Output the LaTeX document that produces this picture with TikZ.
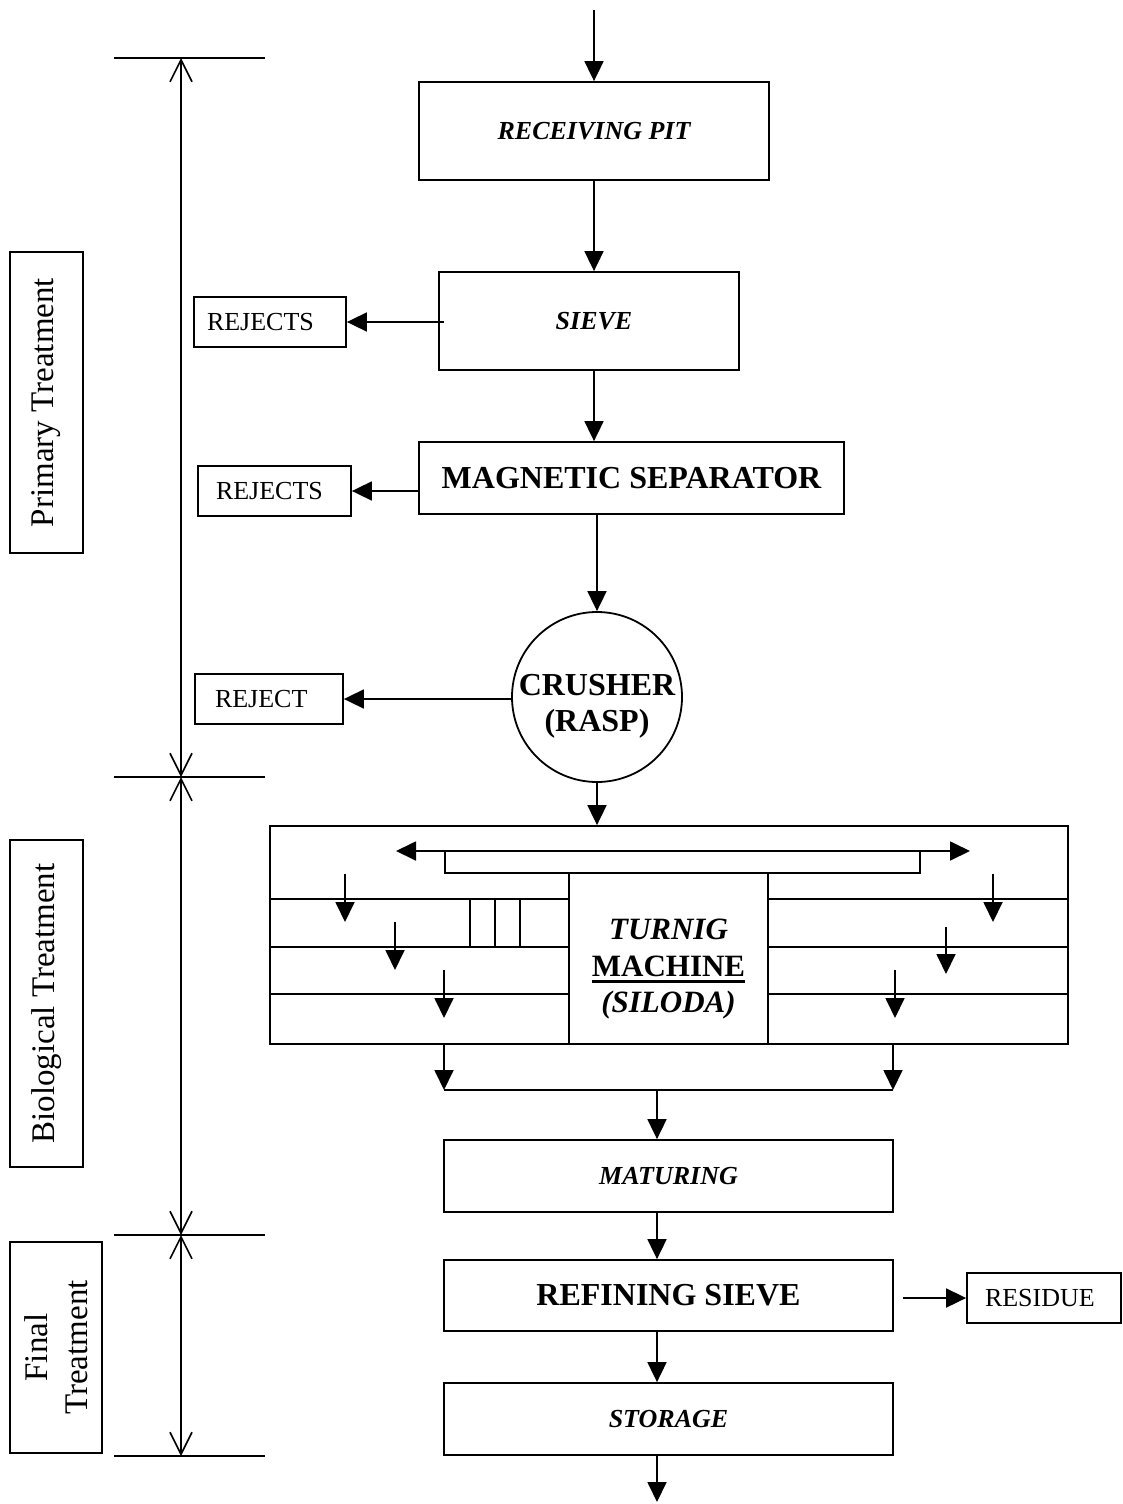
\documentclass[tikz,border=0pt]{standalone}
\usepackage{fontspec}
\setmainfont{Liberation Serif}
\usetikzlibrary{arrows.meta}
\begin{document}
\begin{tikzpicture}[x=1pt,y=-1pt,
  thickline/.style={line width=1.8pt},
  flow/.style={thickline, -{Triangle[length=20pt,width=19pt]}},
  twoway/.style={thickline, {Triangle[length=20pt,width=19pt]}-{Triangle[length=20pt,width=19pt]}},
  dimarrow/.style={line width=1.6pt, {Straight Barb[length=22pt,width=22pt]}-{Straight Barb[length=22pt,width=22pt]}},
  procbox/.style={draw, line width=1.8pt, inner sep=0pt},
  sidebox/.style={draw, line width=1.8pt, inner sep=0pt, rotate=90, align=center,
    font=\fontsize{33pt}{40pt}\selectfont},
  rejbox/.style={draw, line width=1.8pt, inner ysep=0pt, minimum height=50pt, align=left,
    font=\fontsize{26pt}{31pt}\selectfont},
  itfont/.style={font=\fontsize{26pt}{31pt}\selectfont\bfseries\itshape},
  bigfont/.style={font=\fontsize{32pt}{37pt}\selectfont\bfseries},
  tmtext/.style={inner sep=0pt, anchor=base, font=\fontsize{31pt}{37pt}\selectfont\bfseries},
]
\useasboundingbox (0,0) rectangle (1123,1504);

% ---------- stage labels on the left ----------
\node[sidebox, minimum width=301pt, minimum height=73pt] (primary) at (46.5,402.5) {Primary Treatment};
\node[sidebox, minimum width=327pt, minimum height=73pt] (biolab) at (46.5,1003.5) {Biological Treatment};
\node[sidebox, minimum width=211pt, minimum height=92pt] (finallab) at (56,1347.5) {Final\\Treatment};

% ---------- dimension line with ticks ----------
\coordinate (d0) at (181,58);
\coordinate (d1) at (181,777);
\coordinate (d2) at (181,1235);
\coordinate (d3) at (181,1456);
\foreach \d in {d0,d1,d2,d3}{
  \draw[thickline] ([xshift=-67pt]\d) -- ([xshift=84pt]\d);
}
\draw[dimarrow] (d0) -- (d1);
\draw[dimarrow] (d1) -- (d2);
\draw[dimarrow] (d2) -- (d3);

% ---------- primary treatment chain ----------
\coordinate (feed) at (594,10);
\node[procbox, itfont, minimum width=350pt, minimum height=98pt] (pit) at (594,131) {RECEIVING PIT};
\node[procbox, itfont, minimum width=300pt, minimum height=98pt] (sieve) at (589,321) {\hspace*{10pt}SIEVE};
\node[procbox, bigfont, minimum width=425pt, minimum height=72pt] (magsep) at (631.5,478) {MAGNETIC SEPARATOR};
\node[procbox, circle, minimum size=170pt] (crusher) at (597,697) {};
\node[inner sep=0pt, anchor=base, bigfont] (crushA) at (597,695) {CRUSHER};
\node[inner sep=0pt, anchor=base, bigfont] (crushB) at (597,731) {(RASP)};

\node[rejbox, inner xsep=13pt, text width=126pt] (rej1) at (270,322) {REJECTS};
\node[rejbox, inner xsep=18pt, text width=117pt] (rej2) at (274.5,491) {REJECTS};
\node[rejbox, inner xsep=20pt, text width=108pt] (rej3) at (269,699) {REJECT};

\draw[flow] (feed) -- (pit.north);
\draw[flow] (pit.south) -- (pit.south |- sieve.north);
\draw[flow] (pit.south |- sieve.south) -- (pit.south |- magsep.north);
\draw[flow] (crusher.north |- magsep.south) -- (crusher.north);

\draw[flow] ([xshift=6pt]sieve.west |- rej1.east) -- (rej1.east);
\draw[flow] (magsep.west |- rej2.east) -- (rej2.east);
\draw[flow] (crusher.west |- rej3.east) -- (rej3.east);

% ---------- biological treatment (silo with turning machine) ----------
\node[procbox, minimum width=798pt, minimum height=218pt] (bio) at (669,935) {};
\draw[flow] (crusher.south) -- (crusher.south |- bio.north);

\coordinate (trackL) at (396,851);
\coordinate (trackR) at (970,851);
\draw[twoway] (trackL) -- (trackR);
\draw[thickline] (445,851) rectangle (920,873);

\node[procbox, minimum width=199pt, minimum height=171pt] (tm) at (668.5,958.5) {};
\node[tmtext, font=\fontsize{31pt}{37pt}\selectfont\bfseries\itshape] (tmA) at (668.5,939) {TURNIG};
\node[tmtext] (tmB) at (668.5,976) {MACHINE};
\node[tmtext, font=\fontsize{31pt}{37pt}\selectfont\bfseries\itshape] (tmC) at (668.5,1012) {(SILODA)};
\draw[line width=3pt] ([yshift=-5.5pt]tmB.base west) -- ([yshift=-5.5pt]tmB.base east);

% compartment walls
\foreach \yy in {899,947,994}{
  \draw[thickline] (bio.west |- 0,\yy) -- (tm.west |- 0,\yy);
  \draw[thickline] (tm.east |- 0,\yy) -- (bio.east |- 0,\yy);
}
\foreach \xx in {470,495,520}{
  \draw[thickline] (\xx,899) -- (\xx,947);
}

% material moving down through the compartments
\draw[flow] (345,874) -- (345,922);
\draw[flow] (395,922) -- (395,970);
\draw[flow] (444,970) -- (444,1018);
\draw[flow] (993,874) -- (993,922);
\draw[flow] (946,927) -- (946,974);
\draw[flow] (895,970) -- (895,1018);

% collecting outlet
\coordinate (outL) at (444,1090);
\coordinate (outR) at (893,1090);
\draw[flow] (outL |- bio.south) -- (outL);
\draw[flow] (outR |- bio.south) -- (outR);
\draw[thickline] (outL) -- (outR);

% ---------- maturing and final treatment ----------
\node[procbox, itfont, minimum width=449pt, minimum height=72pt] (maturing) at (668.5,1176) {MATURING};
\node[procbox, bigfont, minimum width=449pt, minimum height=71pt] (refining) at (668.5,1295.5) {REFINING SIEVE};
\node[procbox, itfont, minimum width=449pt, minimum height=72pt] (storage) at (668.5,1419) {STORAGE};
\node[rejbox, inner xsep=18pt, text width=118pt] (residue) at (1044,1298) {RESIDUE};

\coordinate (mx) at (657,1090);
\coordinate (resstart) at (903,1298);
\coordinate (exit) at (657,1502);
\draw[flow] (mx) -- (mx |- maturing.north);
\draw[flow] (mx |- maturing.south) -- (mx |- refining.north);
\draw[flow] (mx |- refining.south) -- (mx |- storage.north);
\draw[flow] (mx |- storage.south) -- (exit);
\draw[flow] (resstart) -- (residue.west);
\end{tikzpicture}
\end{document}
